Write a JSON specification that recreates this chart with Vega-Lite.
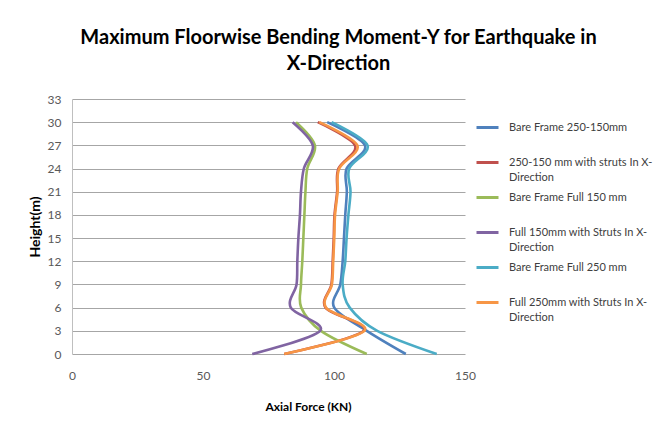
{
  "$schema": "https://vega.github.io/schema/vega-lite/v6.json",
  "width": 393,
  "height": 255,
  "autosize": {"type": "none"},
  "padding": {"left": 72, "top": 99, "right": 202, "bottom": 69},
  "background": "white",
  "title": {
    "text": ["Maximum Floorwise Bending Moment-Y for Earthquake in", "X-Direction"],
    "font": "Lato",
    "fontSize": 20,
    "fontWeight": "bold",
    "color": "#000000",
    "anchor": "middle",
    "dx": 70,
    "offset": 19,
    "lineHeight": 26
  },
  "data": {
    "values": [
      {"series": "Bare Frame 250-150mm", "h": 0, "f": 127.4},
      {"series": "Bare Frame 250-150mm", "h": 3, "f": 112.5},
      {"series": "Bare Frame 250-150mm", "h": 6, "f": 100.1},
      {"series": "Bare Frame 250-150mm", "h": 9, "f": 102.4},
      {"series": "Bare Frame 250-150mm", "h": 12, "f": 103.3},
      {"series": "Bare Frame 250-150mm", "h": 15, "f": 103.8},
      {"series": "Bare Frame 250-150mm", "h": 18, "f": 104.3},
      {"series": "Bare Frame 250-150mm", "h": 21, "f": 104.9},
      {"series": "Bare Frame 250-150mm", "h": 24, "f": 104.8},
      {"series": "Bare Frame 250-150mm", "h": 27, "f": 111.8},
      {"series": "Bare Frame 250-150mm", "h": 30, "f": 97.4},

      {"series": "250-150 mm with struts  In X-Direction", "h": 0, "f": 81.0},
      {"series": "250-150 mm with struts  In X-Direction", "h": 3, "f": 111.3},
      {"series": "250-150 mm with struts  In X-Direction", "h": 6, "f": 96.8},
      {"series": "250-150 mm with struts  In X-Direction", "h": 9, "f": 99.0},
      {"series": "250-150 mm with struts  In X-Direction", "h": 12, "f": 99.5},
      {"series": "250-150 mm with struts  In X-Direction", "h": 15, "f": 99.9},
      {"series": "250-150 mm with struts  In X-Direction", "h": 18, "f": 100.2},
      {"series": "250-150 mm with struts  In X-Direction", "h": 21, "f": 101.2},
      {"series": "250-150 mm with struts  In X-Direction", "h": 24, "f": 101.7},
      {"series": "250-150 mm with struts  In X-Direction", "h": 27, "f": 108.0},
      {"series": "250-150 mm with struts  In X-Direction", "h": 30, "f": 93.8},

      {"series": "Bare Frame Full 150 mm", "h": 0, "f": 112.5},
      {"series": "Bare Frame Full 150 mm", "h": 3, "f": 95.0},
      {"series": "Bare Frame Full 150 mm", "h": 6, "f": 87.5},
      {"series": "Bare Frame Full 150 mm", "h": 9, "f": 87.4},
      {"series": "Bare Frame Full 150 mm", "h": 12, "f": 87.9},
      {"series": "Bare Frame Full 150 mm", "h": 15, "f": 88.3},
      {"series": "Bare Frame Full 150 mm", "h": 18, "f": 88.7},
      {"series": "Bare Frame Full 150 mm", "h": 21, "f": 89.1},
      {"series": "Bare Frame Full 150 mm", "h": 24, "f": 89.8},
      {"series": "Bare Frame Full 150 mm", "h": 27, "f": 92.7},
      {"series": "Bare Frame Full 150 mm", "h": 30, "f": 85.5},

      {"series": "Full 150mm with Struts  In X-Direction", "h": 0, "f": 68.8},
      {"series": "Full 150mm with Struts  In X-Direction", "h": 3, "f": 94.7},
      {"series": "Full 150mm with Struts  In X-Direction", "h": 6, "f": 83.5},
      {"series": "Full 150mm with Struts  In X-Direction", "h": 9, "f": 85.7},
      {"series": "Full 150mm with Struts  In X-Direction", "h": 12, "f": 86.0},
      {"series": "Full 150mm with Struts  In X-Direction", "h": 15, "f": 86.4},
      {"series": "Full 150mm with Struts  In X-Direction", "h": 18, "f": 87.0},
      {"series": "Full 150mm with Struts  In X-Direction", "h": 21, "f": 87.4},
      {"series": "Full 150mm with Struts  In X-Direction", "h": 24, "f": 88.5},
      {"series": "Full 150mm with Struts  In X-Direction", "h": 27, "f": 91.9},
      {"series": "Full 150mm with Struts  In X-Direction", "h": 30, "f": 84.2},

      {"series": "Bare Frame Full 250 mm", "h": 0, "f": 139.2},
      {"series": "Bare Frame Full 250 mm", "h": 3, "f": 116.5},
      {"series": "Bare Frame Full 250 mm", "h": 6, "f": 106.0},
      {"series": "Bare Frame Full 250 mm", "h": 9, "f": 103.3},
      {"series": "Bare Frame Full 250 mm", "h": 12, "f": 104.3},
      {"series": "Bare Frame Full 250 mm", "h": 15, "f": 104.8},
      {"series": "Bare Frame Full 250 mm", "h": 18, "f": 105.5},
      {"series": "Bare Frame Full 250 mm", "h": 21, "f": 106.3},
      {"series": "Bare Frame Full 250 mm", "h": 24, "f": 105.8},
      {"series": "Bare Frame Full 250 mm", "h": 27, "f": 112.8},
      {"series": "Bare Frame Full 250 mm", "h": 30, "f": 99.1},

      {"series": "Full 250mm with Struts In X-Direction", "h": 0, "f": 81.0},
      {"series": "Full 250mm with Struts In X-Direction", "h": 3, "f": 111.6},
      {"series": "Full 250mm with Struts In X-Direction", "h": 6, "f": 97.0},
      {"series": "Full 250mm with Struts In X-Direction", "h": 9, "f": 99.2},
      {"series": "Full 250mm with Struts In X-Direction", "h": 12, "f": 99.7},
      {"series": "Full 250mm with Struts In X-Direction", "h": 15, "f": 100.1},
      {"series": "Full 250mm with Struts In X-Direction", "h": 18, "f": 100.4},
      {"series": "Full 250mm with Struts In X-Direction", "h": 21, "f": 101.4},
      {"series": "Full 250mm with Struts In X-Direction", "h": 24, "f": 102.0},
      {"series": "Full 250mm with Struts In X-Direction", "h": 27, "f": 108.9},
      {"series": "Full 250mm with Struts In X-Direction", "h": 30, "f": 94.4}
    ]
  },
  "mark": {"type": "line", "interpolate": "cardinal", "strokeWidth": 2.6, "clip": false},
  "encoding": {
    "x": {
      "field": "f",
      "type": "quantitative",
      "scale": {"domain": [0, 150], "nice": false},
      "axis": {
        "title": "Axial  Force (KN)",
        "values": [0, 50, 100, 150],
        "grid": false,
        "domain": false,
        "ticks": false,
        "labelFlush": false,
        "labelPadding": 16,
        "labelFont": "Lato",
        "labelFontSize": 12,
        "labelColor": "#595959",
        "titleFont": "Lato",
        "titleFontSize": 12,
        "titleFontWeight": "bold",
        "titleColor": "#000000",
        "titleX": 236,
        "titlePadding": 20
      }
    },
    "y": {
      "field": "h",
      "type": "quantitative",
      "scale": {"domain": [0, 33], "nice": false},
      "axis": {
        "title": "Height(m)",
        "values": [0, 3, 6, 9, 12, 15, 18, 21, 24, 27, 30, 33],
        "grid": true,
        "gridColor": "#A6A6A6",
        "gridWidth": 1,
        "domain": true,
        "domainColor": "#BFBFBF",
        "ticks": false,
        "labelPadding": 11,
        "labelFont": "Lato",
        "labelFontSize": 12,
        "labelColor": "#595959",
        "titleFont": "Lato",
        "titleFontSize": 14,
        "titleFontWeight": "bold",
        "titleColor": "#000000",
        "titlePadding": 5
      }
    },
    "color": {
      "field": "series",
      "type": "nominal",
      "sort": null,
      "scale": {
        "domain": [
          "Bare Frame 250-150mm",
          "250-150 mm with struts  In X-Direction",
          "Bare Frame Full 150 mm",
          "Full 150mm with Struts  In X-Direction",
          "Bare Frame Full 250 mm",
          "Full 250mm with Struts In X-Direction"
        ],
        "range": ["#4F81BD", "#C0504D", "#9BBB59", "#8064A2", "#4BACC6", "#F79646"]
      },
      "legend": {
        "title": null,
        "orient": "none",
        "legendX": 403,
        "legendY": 16,
        "symbolType": "stroke",
        "symbolSize": 484,
        "symbolStrokeWidth": 3,
        "labelFont": "Lato",
        "labelFontSize": 11,
        "labelColor": "#404040",
        "labelOffset": 9,
        "labelLimit": 200,
        "labelBaseline": "middle",
        "gridAlign": "all",
        "rowPadding": 2,
        "labelExpr": "indexof(datum.label, 'X-') >= 0 ? [substring(datum.label, 0, indexof(datum.label, 'X-') + 2), 'Direction'] : [datum.label, ' ']",
        "encode": {
          "labels": {
            "update": {
              "lineHeight": {"value": 15}
            }
          }
        }
      }
    },
    "order": {"field": "h", "type": "quantitative"}
  },
  "config": {
    "view": {"stroke": null}
  }
}
